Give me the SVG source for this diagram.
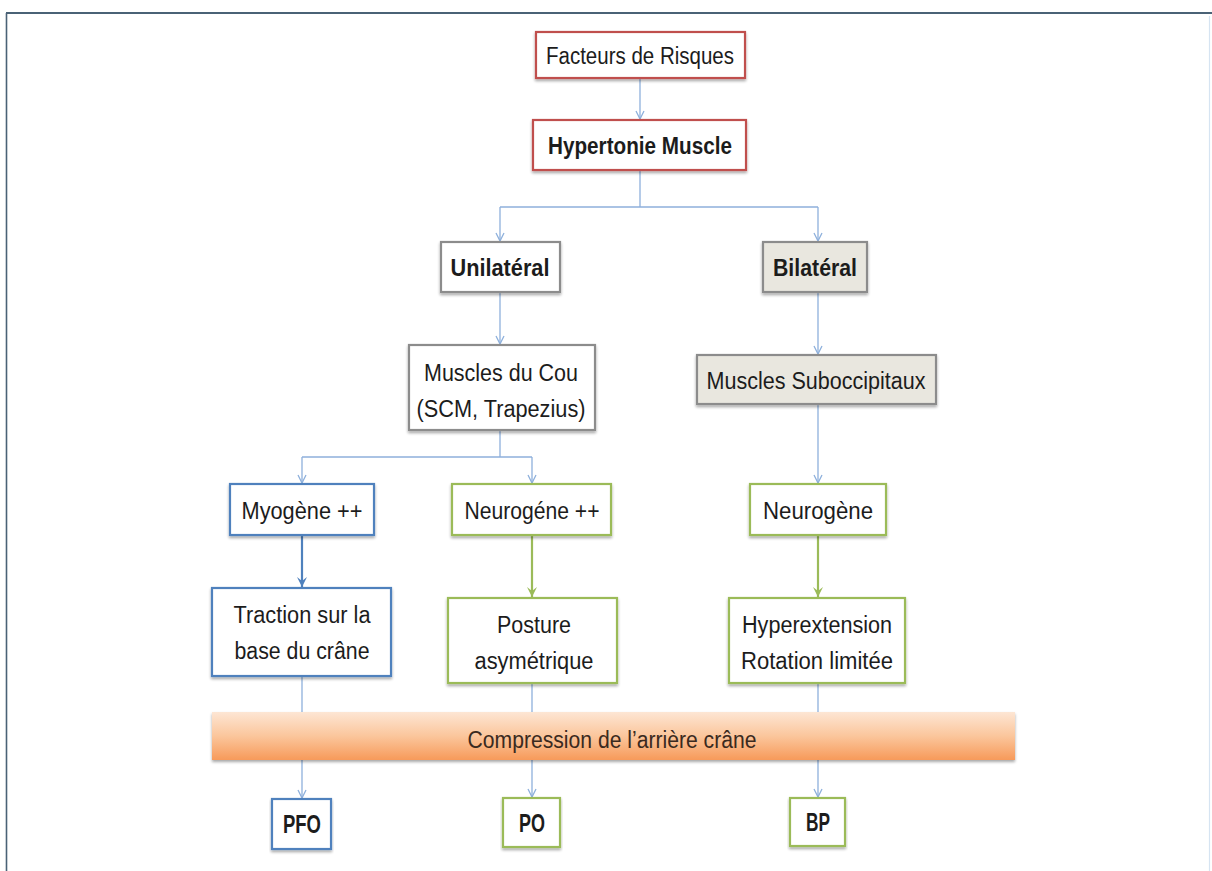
<svg xmlns="http://www.w3.org/2000/svg" width="1212" height="871" viewBox="0 0 1212 871">
<defs>
<style>
.t{font-family:"Liberation Sans","Open Sans",sans-serif;font-size:23px;fill:#1c1c1c;text-anchor:middle}
.b{font-weight:bold}
.s{font-size:25px}
.box{fill:#fff;stroke-width:2.2}
.red{stroke:#c0504d}
.gray{stroke:#8c8c8c}
.tan{fill:#e9e7df;stroke:#8c8c8c}
.blue{stroke:#4f81bd}
.green{stroke:#9bbb59}
.c{fill:none;stroke:#8eb0dc;stroke-width:1.3}
.cb{fill:none;stroke:#4f81bd;stroke-width:2.2}
.cg{fill:none;stroke:#9bbb59;stroke-width:2.2}
</style>
<marker id="ma" markerWidth="10" markerHeight="10" refX="9" refY="5" orient="auto" markerUnits="userSpaceOnUse" viewBox="0 0 10 10">
<path d="M1,1 L9,5 L1,9" fill="none" stroke="#8eb0dc" stroke-width="1.3"/>
</marker>
<marker id="mb" markerWidth="12" markerHeight="12" refX="11" refY="6" orient="auto" markerUnits="userSpaceOnUse" viewBox="0 0 12 12">
<path d="M1,1 L11,6 L1,11 L5,6 Z" fill="#4f81bd"/>
</marker>
<marker id="mg" markerWidth="12" markerHeight="12" refX="11" refY="6" orient="auto" markerUnits="userSpaceOnUse" viewBox="0 0 12 12">
<path d="M1,1 L11,6 L1,11 L5,6 Z" fill="#9bbb59"/>
</marker>
<linearGradient id="og" x1="0" y1="0" x2="0" y2="1">
<stop offset="0" stop-color="#fde6d4"/>
<stop offset="0.5" stop-color="#fbc69c"/>
<stop offset="1" stop-color="#f79a5a"/>
</linearGradient>
<filter id="sh" x="-5%" y="-10%" width="110%" height="130%">
<feGaussianBlur in="SourceAlpha" stdDeviation="1.5"/>
<feOffset dx="0" dy="2" result="o"/>
<feComponentTransfer><feFuncA type="linear" slope="0.35"/></feComponentTransfer>
<feMerge><feMergeNode/><feMergeNode in="SourceGraphic"/></feMerge>
</filter>
</defs>
<rect width="1212" height="871" fill="#fff"/>
<g id="frame">
<line x1="6" y1="13" x2="1212" y2="13" stroke="#4a6276" stroke-width="2"/>
<line x1="6.5" y1="13" x2="6.5" y2="871" stroke="#4a6276" stroke-width="1.6"/>
<line x1="1209.5" y1="16" x2="1209.5" y2="871" stroke="#d6e4f2" stroke-width="1.2"/>
</g>
<g id="connectors">
<line class="c" x1="640" y1="78" x2="640" y2="119" marker-end="url(#ma)"/>
<path class="c" d="M640,170 V207 M500,207 H818"/>
<line class="c" x1="500" y1="207" x2="500" y2="241" marker-end="url(#ma)"/>
<line class="c" x1="818" y1="207" x2="818" y2="241" marker-end="url(#ma)"/>
<line class="c" x1="500" y1="292" x2="500" y2="344" marker-end="url(#ma)"/>
<line class="c" x1="818" y1="292" x2="818" y2="354" marker-end="url(#ma)"/>
<path class="c" d="M500,430 V457 M302,457 H532"/>
<line class="c" x1="302" y1="457" x2="302" y2="483" marker-end="url(#ma)"/>
<line class="c" x1="532" y1="457" x2="532" y2="483" marker-end="url(#ma)"/>
<line class="c" x1="818" y1="404" x2="818" y2="483" marker-end="url(#ma)"/>
<line class="cb" x1="302" y1="535" x2="302" y2="587" marker-end="url(#mb)"/>
<line class="cg" x1="532" y1="535" x2="532" y2="597" marker-end="url(#mg)"/>
<line class="cg" x1="818" y1="535" x2="818" y2="597" marker-end="url(#mg)"/>
<line class="c" x1="302" y1="677" x2="302" y2="798" marker-end="url(#ma)"/>
<line class="c" x1="532" y1="684" x2="532" y2="797" marker-end="url(#ma)"/>
<line class="c" x1="818" y1="684" x2="818" y2="797" marker-end="url(#ma)"/>
</g>
<g id="n-facteurs"><rect class="box red" x="536" y="32" width="209" height="46" filter="url(#sh)"/><text class="t" x="640" y="64" textLength="188" lengthAdjust="spacingAndGlyphs">Facteurs de Risques</text></g>
<g id="n-hypertonie"><rect class="box red" x="533" y="120" width="213" height="50" filter="url(#sh)"/><text class="t b" x="640" y="154" textLength="184" lengthAdjust="spacingAndGlyphs">Hypertonie Muscle</text></g>
<g id="n-unilateral"><rect class="box gray" x="441" y="242" width="119" height="50" filter="url(#sh)"/><text class="t b" x="500" y="276" textLength="99" lengthAdjust="spacingAndGlyphs">Unilatéral</text></g>
<g id="n-bilateral"><rect class="box tan" x="763" y="242" width="104" height="50" filter="url(#sh)"/><text class="t b" x="815" y="276" textLength="84" lengthAdjust="spacingAndGlyphs">Bilatéral</text></g>
<g id="n-cou"><rect class="box gray" x="409" y="345" width="186" height="85" filter="url(#sh)"/><text class="t" x="501" y="381" textLength="154" lengthAdjust="spacingAndGlyphs">Muscles du Cou</text><text class="t" x="501" y="417" textLength="169" lengthAdjust="spacingAndGlyphs">(SCM, Trapezius)</text></g>
<g id="n-suboccipitaux"><rect class="box tan" x="697" y="355" width="239" height="49" filter="url(#sh)"/><text class="t" x="816" y="389" textLength="219" lengthAdjust="spacingAndGlyphs">Muscles Suboccipitaux</text></g>
<g id="n-myogene"><rect class="box blue" x="230" y="484" width="144" height="51" filter="url(#sh)"/><text class="t" x="302" y="519" textLength="121" lengthAdjust="spacingAndGlyphs">Myogène ++</text></g>
<g id="n-neurogene-pp"><rect class="box green" x="452" y="484" width="159" height="51" filter="url(#sh)"/><text class="t" x="532" y="519" textLength="135" lengthAdjust="spacingAndGlyphs">Neurogéne ++</text></g>
<g id="n-neurogene"><rect class="box green" x="750" y="484" width="136" height="51" filter="url(#sh)"/><text class="t" x="818" y="519" textLength="110" lengthAdjust="spacingAndGlyphs">Neurogène</text></g>
<g id="n-traction"><rect class="box blue" x="212" y="588" width="179" height="88" filter="url(#sh)"/><text class="t" x="302" y="623" textLength="137" lengthAdjust="spacingAndGlyphs">Traction sur la</text><text class="t" x="302" y="659" textLength="135" lengthAdjust="spacingAndGlyphs">base du crâne</text></g>
<g id="n-posture"><rect class="box green" x="448" y="598" width="169" height="85" filter="url(#sh)"/><text class="t" x="534" y="633" textLength="74" lengthAdjust="spacingAndGlyphs">Posture</text><text class="t" x="534" y="669" textLength="119" lengthAdjust="spacingAndGlyphs">asymétrique</text></g>
<g id="n-hyperextension"><rect class="box green" x="729" y="598" width="176" height="85" filter="url(#sh)"/><text class="t" x="817" y="633" textLength="150" lengthAdjust="spacingAndGlyphs">Hyperextension</text><text class="t" x="817" y="669" textLength="152" lengthAdjust="spacingAndGlyphs">Rotation limitée</text></g>
<g id="n-compression"><rect x="212" y="712" width="803" height="48" fill="url(#og)" filter="url(#sh)"/><text class="t" x="612" y="748" textLength="289" lengthAdjust="spacingAndGlyphs" style="fill:#3a2a20">Compression de l’arrière crâne</text></g>
<g id="n-pfo"><rect class="box blue" x="272" y="799" width="59" height="50" filter="url(#sh)"/><text class="t b s" x="302" y="833" textLength="38" lengthAdjust="spacingAndGlyphs">PFO</text></g>
<g id="n-po"><rect class="box green" x="503" y="798" width="57" height="49" filter="url(#sh)"/><text class="t b s" x="532" y="832" textLength="26" lengthAdjust="spacingAndGlyphs">PO</text></g>
<g id="n-bp"><rect class="box green" x="790" y="798" width="55" height="48" filter="url(#sh)"/><text class="t b s" x="818" y="831" textLength="24" lengthAdjust="spacingAndGlyphs">BP</text></g>
</svg>
